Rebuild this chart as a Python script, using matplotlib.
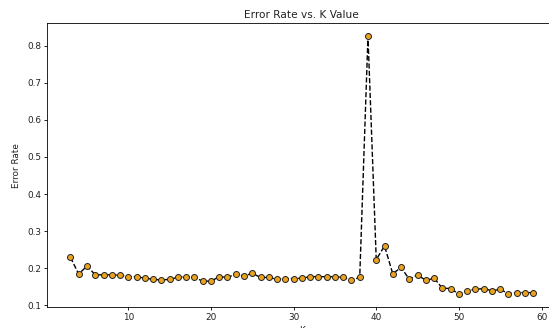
import matplotlib
matplotlib.use("Agg")
import matplotlib.pyplot as plt

k_values = list(range(3, 60))
error_rate = [
    0.229, 0.184, 0.206, 0.182, 0.182, 0.182, 0.181, 0.177, 0.177, 0.173,
    0.170, 0.168, 0.170, 0.175, 0.177, 0.175, 0.165, 0.165, 0.177, 0.175,
    0.184, 0.179, 0.186, 0.175, 0.175, 0.170, 0.172, 0.172, 0.173, 0.177,
    0.177, 0.177, 0.177, 0.175, 0.168, 0.175, 0.826, 0.223, 0.260, 0.185,
    0.202, 0.170, 0.182, 0.167, 0.173, 0.146, 0.145, 0.130, 0.139, 0.143,
    0.145, 0.139, 0.143, 0.131, 0.134, 0.134, 0.134,
]

fig = plt.figure(figsize=(5.49, 3.28), dpi=100)
# axes run past the right edge, like the cropped original
ax = fig.add_axes([0.0862, 0.064, 0.9273, 0.865])

ax.plot(k_values, error_rate, color="black", linestyle="dashed", linewidth=1,
        marker="o", markerfacecolor="#eba21e", markeredgecolor="#222222",
        markeredgewidth=0.7, markersize=4.3)

ax.set_title("Error Rate vs. K Value", fontsize=7.6, pad=4, color="#222222")
ax.set_xlabel("K", fontsize=6.4, labelpad=3, color="#222222")
ax.set_ylabel("Error Rate", fontsize=6.4, labelpad=4, color="#222222")
ax.tick_params(labelsize=6.4, length=2.5, width=0.6, pad=2, labelcolor="#222222")
for s in ax.spines.values():
    s.set_linewidth(0.6)

fig.savefig("out.png", dpi=100)
